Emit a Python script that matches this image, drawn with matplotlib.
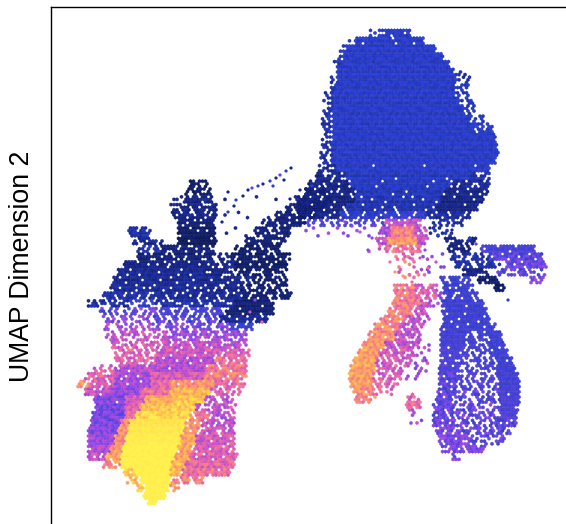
import math
import matplotlib
matplotlib.use("Agg")
import matplotlib.pyplot as plt
from matplotlib.colors import LinearSegmentedColormap

# Bands: (y, x_start, x_end, expression level 0-9, share of filled cells)
upper_lobe = [
 (32,378,410,2,.8),(32,370,378,2,.4),(40,356,424,2,.92),(40,348,356,2,.4),(48,346,436,2,1),(48,340,346,2,.4),(56,342,443,2,1),(56,336,342,1.7,.5),
 (64,339,449,2,1),(64,333,339,1.7,.5),(72,336,454,2,1),(72,454,465,1.5,.45),(80,336,456,2,1),(80,330,336,1.5,.5),(80,456,470,1.5,.4),
 (88,334,452,2,1),(88,328,334,1.5,.5),(88,452,468,1.7,.5),(96,332,455,2,1),(96,324,332,1.5,.5),(96,455,472,1.7,.45),
 (104,332,460,2,1),(104,323,332,1.6,.55),(104,460,474,1.7,.5),(112,332,464,2,1),(112,322,332,1.6,.55),(112,464,476,1.8,.5),
 (120,332,468,2,1),(120,322,332,1.6,.5),(120,468,484,1.8,.45),(128,332,474,2,1),(128,322,332,1.5,.55),(128,474,492,2,.6),
 (136,332,495,2,.99),(136,322,332,1.5,.55),(144,332,497,2,.99),(144,322,332,1.5,.55),(152,332,498,2,.99),(152,320,332,1.4,.5),
 (160,332,496,2,.97),(160,318,332,1.4,.5),(168,335,490,2,.97),(168,318,335,1.3,.6),
 (176,345,470,1.9,.96),(176,315,345,1.2,.7),(176,470,490,1.6,.7),(184,350,450,1.9,.96),(184,308,350,1,.8),(184,450,490,1.3,.75),
 (192,355,445,1.8,.95),(192,303,355,1,.82),(192,445,488,1.1,.85),(200,355,440,1.7,.92),(200,298,355,.9,.85),(200,440,483,1,.95),
 (208,345,435,1.6,.85),(208,298,345,.9,.88),(208,435,477,1,.95),(216,298,340,1.1,.8),(216,340,385,2,.8),(216,385,425,2.3,.85),(216,425,470,1.4,.8),
 (224,300,385,2.8,.4),(224,430,462,1.5,.5),(232,300,378,4,.1),(232,430,455,1.5,.3),
]
orange_spot = [
 (224,385,420,5,.85),(232,378,390,4.5,.8),(232,390,415,6.5,1),(232,415,427,4.8,.8),
 (240,375,388,5,.8),(240,388,418,7,1),(240,418,428,5,.75),(248,385,420,6,.65),
 (248,345,385,5,.06),(256,395,415,6,.35),(264,398,415,6,.3),(272,398,418,5.5,.25),
 (256,420,445,4,.15),(270,420,445,3.5,.2),
]
right_wing = [
 (240,445,480,1,.55),(248,447,470,.8,.65),(248,480,535,2.7,.9),(256,450,490,1.5,.55),(256,490,543,3,.92),
 (264,455,500,1.5,.6),(264,505,546,3.4,.9),(272,462,490,1,.75),(272,495,545,3.1,.55),(280,478,500,.6,.85),(280,530,544,3.7,.7),
 (288,494,505,.4,.85),
]
right_lobe = [
 (280,440,470,2.4,.7),(288,443,473,2.4,.8),(296,443,478,2.5,.8),(304,442,484,2.5,.88),(312,442,487,2.5,.92),
 (320,443,490,2.5,.92),(328,440,495,2.5,.92),(336,440,465,2.6,.96),(336,465,490,2.5,.6),(336,490,501,2.5,.96),
 (344,440,465,2.7,.96),(344,465,490,2.6,.6),(344,490,505,2.5,.96),(352,440,462,2.8,.92),(352,462,492,2.6,.55),(352,492,508,2.5,.96),
 (360,440,458,2.8,.92),(360,458,495,2.7,.55),(360,495,512,2.5,.96),(368,438,456,2.9,.92),(368,456,495,2.8,.5),(368,495,515,2.5,.96),
 (376,438,456,3,.92),(376,456,498,2.9,.5),(376,498,518,2.6,.96),(384,438,456,3.1,.88),(384,456,498,3,.5),(384,498,520,2.6,.96),
 (392,437,455,3.1,.88),(392,455,500,3,.5),(392,500,520,2.7,.96),(400,435,452,3.2,.88),(400,452,500,3,.5),(400,500,520,2.8,.96),
 (408,432,452,3.3,.85),(408,452,500,3.1,.55),(408,500,518,2.8,.92),(416,432,452,3.3,.8),(416,452,500,3.2,.55),(416,500,518,2.9,.92),
 (424,433,455,3.4,.8),(424,455,490,3.2,.55),(424,490,516,3,.85),(432,436,462,3.5,.8),(432,462,495,3.2,.6),(432,495,510,3,.8),
 (440,438,470,3.6,.8),(440,470,505,3.2,.5),(448,442,485,3.6,.75),(456,450,460,3.6,.6),
]
orange_lobe = [
 (276,400,425,6,.25),(288,393,415,6.3,.85),(288,415,437,5.5,.7),(296,393,415,6.3,.95),(296,415,437,5.5,.75),(296,437,445,4,.4),
 (304,392,420,6.3,.88),(304,420,432,5,.7),(304,432,442,4,.3),(312,388,412,6.5,.82),(312,412,430,5.2,.6),(320,380,405,6.5,.88),(320,405,430,5,.65),
 (328,374,400,6.6,.92),(328,400,423,5,.72),(336,368,395,6.8,.92),(336,395,420,4.9,.72),(344,362,385,7,.95),(344,385,418,5,.78),(344,418,432,4.4,.2),
 (352,357,378,7.1,.97),(352,378,415,5.3,.7),(352,415,432,4.4,.2),(360,353,375,7.2,.98),(360,375,410,5.3,.65),(360,410,432,4.4,.25),(368,350,375,7.2,1),(368,375,405,5.3,.6),(368,405,430,4.2,.25),
 (376,349,373,7.1,1),(376,373,403,5.4,.65),(376,403,425,4.4,.2),(384,350,372,7,1),(384,372,398,5.6,.55),(392,353,372,6.8,.92),(392,372,392,5.5,.35),
 (400,355,375,6.6,.75),(396,405,420,5.5,.5),(404,406,420,5.8,.85),(412,408,418,5,.5),(420,408,422,4.5,.2),
]
ridge = [
 (192,305,325,1,.5),(200,293,330,1,.6),(208,285,325,.8,.7),(216,275,315,.8,.75),(224,262,305,.8,.75),
 (232,255,290,.8,.7),(240,245,285,.8,.7),(232,222,255,1,.08),(216,218,275,1,.07),(200,220,290,1,.05),
]
left_dark = [
 (184,190,207,.5,.7),(192,185,210,.5,.6),(200,173,186,1,.4),(200,186,213,1,.75),(208,170,217,1,.7),(216,172,217,1,.75),
 (224,177,215,.7,.8),(232,128,150,1.5,.8),(232,178,215,.5,.85),(240,132,163,1.2,.6),(240,178,217,.3,.9),
 (248,137,160,1.5,.6),(248,160,213,.8,.75),(248,235,280,.5,.7),(256,137,213,.8,.8),(256,213,230,1,.45),(256,230,290,.5,.8),
 (264,123,210,1,.85),(264,210,235,1.1,.7),(264,235,287,.5,.85),(272,118,205,1.2,.85),(272,205,235,1,.78),(272,235,287,.6,.65),
 (280,113,215,1.2,.9),(280,215,250,1.1,.75),(280,250,287,.7,.6),(288,110,200,1.3,.85),(288,200,240,1.1,.75),(288,240,287,.7,.6),
 (296,103,160,1.5,.8),(296,160,240,1.2,.82),(296,240,293,.7,.75),(304,88,130,1.4,.6),(304,130,155,2.2,.45),(304,155,235,1.5,.7),(304,235,273,.7,.9),
 (312,98,135,3,.4),(312,135,160,3.5,.5),(312,160,225,2.7,.6),(312,225,273,.7,.9),
 (320,103,150,3.8,.45),(320,150,220,3,.55),(320,220,267,1.2,.85),(328,103,150,4.6,.45),(328,150,230,3.7,.55),(328,230,253,2.4,.7),
]
left_warm = [
 (336,105,165,5,.5),(336,165,247,4.3,.65),(344,110,165,5.4,.55),(344,165,220,5,.8),(344,220,247,4.8,.75),
 (352,115,160,5.7,.6),(352,160,215,5.3,.9),(352,215,250,5.6,.8),(360,115,155,5.6,.7),(360,155,215,4.7,.92),(360,215,247,6,.8),
 (368,93,115,5.4,.55),(368,115,155,4.8,.85),(368,155,205,4.7,.97),(368,205,247,6.2,.85),(376,85,115,5.6,.7),(376,115,150,4.5,.9),(376,150,205,5.4,.97),(376,205,247,6.4,.85),
 (384,75,90,6.8,.7),(384,90,115,5.4,.8),(384,115,150,4.3,.95),(384,150,170,5.7,1),(384,170,215,6.8,.97),(384,215,245,5.8,.75),
 (392,83,110,5,.85),(392,110,140,4.1,.97),(392,140,170,6,1),(392,170,210,7.6,.97),(392,210,240,5.7,.65),
 (400,93,125,3.8,.97),(400,125,145,5.4,1),(400,145,175,7.4,1),(400,175,205,8,.97),(400,205,233,4.8,.6),
 (408,95,125,3.6,1),(408,125,140,5.6,1),(408,140,170,7.9,1),(408,170,195,8.2,.97),(408,195,237,5,.65),
 (416,92,125,3.6,1),(416,125,135,6.2,1),(416,135,190,8.4,1),(416,190,210,6.4,.78),(416,210,235,4.7,.65),
 (424,90,120,3.7,1),(424,120,130,6.6,1),(424,130,185,8.7,1),(424,185,200,6.8,.88),(424,200,235,5,.75),
 (432,88,118,3.9,1),(432,118,128,6.8,1),(432,128,183,8.8,1),(432,183,197,7,.92),(432,197,235,5.2,.78),
 (440,87,115,4.2,.97),(440,115,125,6.8,1),(440,125,180,8.9,1),(440,180,195,7.2,.97),(440,195,235,5.3,.85),
 (448,87,110,4.6,.97),(448,110,122,7,1),(448,122,178,9,1),(448,178,192,7.2,.97),(448,192,235,5.5,.88),
 (456,88,105,5,.85),(456,105,120,7.2,.92),(456,120,175,9,1),(456,175,190,7.2,1),(456,190,237,5.6,.92),
 (464,103,120,6.8,.72),(464,120,172,9,1),(464,172,185,7.6,1),(464,185,235,5.8,.97),
 (472,123,135,8,.88),(472,135,170,9,1),(472,170,180,7.6,.97),(472,180,230,6,.92),
 (480,127,140,7.6,.6),(480,140,170,9,1),(480,170,203,6.5,.7),(488,137,145,8,.8),(488,145,168,9,1),(488,168,183,7,.4),
 (496,143,165,9,1),(502,148,156,9,1),
]
strays_x = [291,286,280,276,270,263,258,252,248,284,273,243,234,228,222,236,228,290,300,312,430,438,452,470,476,508,
            352,360,372,380,345,390,436,428,420,368,455,395,412,403,410,425,255,250,262]
strays_y = [168,171,175,178,181,184,186,188,190,180,186,196,206,212,222,200,192,199,190,186,228,235,230,238,244,300,
            226,232,238,246,222,262,262,268,258,250,284,272,282,276,258,250,300,312,322]
strays_v = [1,2,3,1,2,1,2,3,1,1,2,1,1,2,1,2,1,1,1,2,1,2,1,2,3,2,4,5,4,6,4,6,5,6,5,4,2,7,6,7,5,4,4,5,6]

palette = ["#0b1a52", "#16258f", "#2840dc", "#5a46ea", "#8f45e6", "#c650c8", "#f06aa0", "#fb9a62", "#ffc548", "#fff14a"]
cmap = LinearSegmentedColormap.from_list("expr", palette)

# Hand-typed irregular texture tile that places the gaps between hexagons.
texture = [
 "38162590471368250", "72905146382079164", "15837620945713826", "94260783151846037",
 "60418392576024918", "27395048163950742", "81674205938261509", "43059718260497381",
 "09526834714382695", "56182970345106273", "32740615892657048", "78913460257840126",
 "14605287936192574",
]

PITCH_X, PITCH_Y = 3.0, 2.6
X0, Y0 = 51.0, 7.0


def tile(i, j):
    a = int(texture[j % 13][i % 17])
    b = int(texture[(j + 5) % 13][(i + 7) % 17])
    return (a * 10 + b) / 100


xs, ys, vs, edges = [], [], [], []
for band in (upper_lobe, orange_spot, right_wing, right_lobe, orange_lobe, ridge, left_dark, left_warm):
    for y, a, b, lev, fill in band:
        j0 = math.ceil((y - 4 - Y0) / PITCH_Y)
        j1 = math.ceil((y + 4 - Y0) / PITCH_Y)
        for j in range(j0, j1):
            off = 1.5 if j % 2 else 0.0
            i0 = int((a - X0 - off) / PITCH_X) + 1
            i1 = int((b - X0 - off) / PITCH_X)
            for i in range(i0, i1 + 1):
                t = tile(i, j)
                if t >= fill:
                    continue
                amp = 0.8 if lev >= 3 else 0.3
                if lev >= 8.7:
                    amp = 0.15
                v = min(9, max(0, lev + (tile(j, i) - 0.5) * 2 * amp))
                xs.append(X0 + PITCH_X * i + off)
                ys.append(Y0 + PITCH_Y * j)
                vs.append(v)
                r, g, bl = cmap(v / 9)[:3]
                k = 0.72 if v < 3.2 else 1.0
                edges.append((r * k, g * k, bl * k))

fig = plt.figure(figsize=(5.66, 5.24), dpi=100)
ax = fig.add_axes([51 / 566, 0, 515 / 566, 517 / 524])
ax.set_xlim(51, 566)
ax.set_ylim(524, 7)
ax.scatter(xs, ys, c=vs, cmap=cmap, vmin=0, vmax=9, marker="h", s=6.5, linewidths=0.25, edgecolors=edges)
ax.scatter(strays_x, strays_y, c=strays_v, cmap=cmap, vmin=0, vmax=9, marker="h", s=6.5, linewidths=0)
ax.set_xticks([])
ax.set_yticks([])
for side in ("right", "bottom"):
    ax.spines[side].set_visible(False)
for side in ("left", "top"):
    ax.spines[side].set_linewidth(1.0)
fig.text(22 / 566, 1 - 266 / 524, "UMAP Dimension 2", rotation=90, ha="center", va="center",
         family=["Liberation Sans"], fontsize=19.2)
fig.savefig("out.png", dpi=100)
